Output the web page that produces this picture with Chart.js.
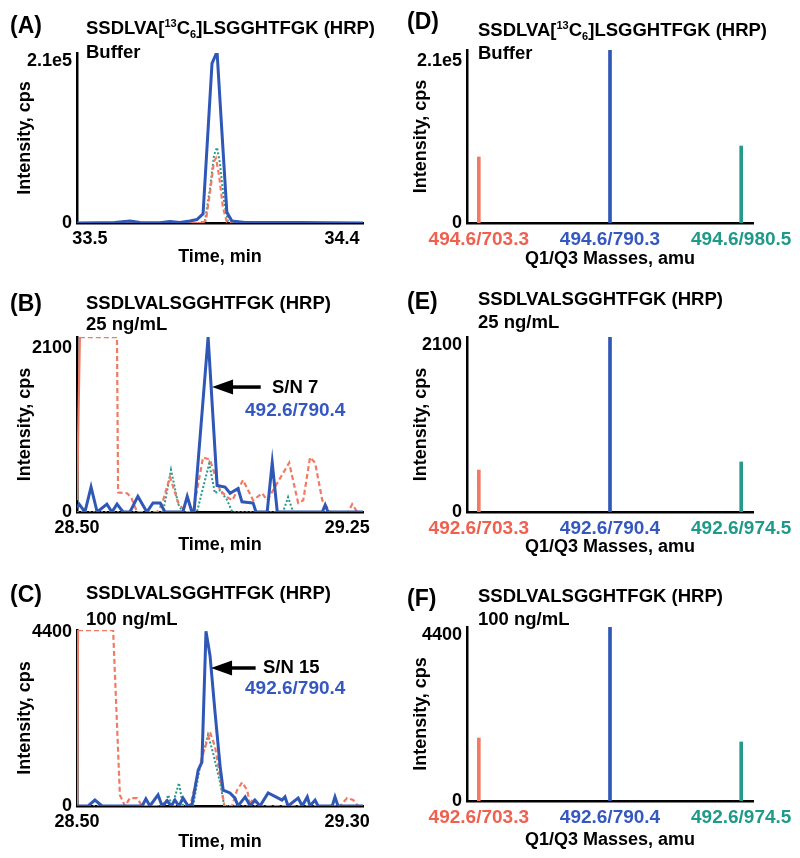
<!DOCTYPE html>
<html>
<head>
<meta charset="utf-8">
<script src="https://cdn.jsdelivr.net/npm/chart.js@4.4.0/dist/chart.umd.min.js"></script>
<style>
body { margin: 0; background: #fff; }
#fig { position: relative; width: 800px; height: 858px; font-family: "Liberation Sans", Arial, sans-serif; font-weight: bold; color: #000; overflow: hidden; }
#fig canvas { position: absolute; }
.t { position: absolute; font-size: 18.5px; line-height: 18px; white-space: nowrap; }
.lbl { position: absolute; font-size: 23px; line-height: 23px; white-space: nowrap; }
.sup { font-size: 11px; position: relative; top: -7px; }
.sub { font-size: 11px; position: relative; top: 4px; }
.blue { color: #3558c0; font-size: 19px; }
</style>
</head>
<body>
<div id="fig">
  <canvas id="chart-a" width="400" height="280" style="left:0;top:0"></canvas>
  <canvas id="chart-b" width="400" height="280" style="left:0;top:280px"></canvas>
  <canvas id="chart-c" width="400" height="298" style="left:0;top:560px"></canvas>
  <canvas id="chart-d" width="400" height="280" style="left:400px;top:0"></canvas>
  <canvas id="chart-e" width="400" height="280" style="left:400px;top:280px"></canvas>
  <canvas id="chart-f" width="400" height="298" style="left:400px;top:560px"></canvas>

  <div class="lbl" style="left:10px;top:14px">(A)</div>
  <div class="t" style="left:86px;top:19px">SSDLVA[<span class="sup">13</span>C<span class="sub">6</span>]LSGGHTFGK (HRP)</div>
  <div class="t" style="left:86px;top:43px">Buffer</div>

  <div class="lbl" style="left:10px;top:292px">(B)</div>
  <div class="t" style="left:86px;top:294px">SSDLVALSGGHTFGK (HRP)</div>
  <div class="t" style="left:86px;top:315px">25 ng/mL</div>
  <div class="t" style="left:272px;top:378px">S/N 7</div>
  <div class="t blue" style="left:245px;top:401px">492.6/790.4</div>

  <div class="lbl" style="left:10px;top:583px">(C)</div>
  <div class="t" style="left:86px;top:584px">SSDLVALSGGHTFGK (HRP)</div>
  <div class="t" style="left:86px;top:610px">100 ng/mL</div>
  <div class="t" style="left:263px;top:658px">S/N 15</div>
  <div class="t blue" style="left:245px;top:679px">492.6/790.4</div>

  <div class="lbl" style="left:407px;top:10px">(D)</div>
  <div class="t" style="left:478px;top:21px">SSDLVA[<span class="sup">13</span>C<span class="sub">6</span>]LSGGHTFGK (HRP)</div>
  <div class="t" style="left:478px;top:44px">Buffer</div>

  <div class="lbl" style="left:407px;top:290px">(E)</div>
  <div class="t" style="left:478px;top:290px">SSDLVALSGGHTFGK (HRP)</div>
  <div class="t" style="left:478px;top:313px">25 ng/mL</div>

  <div class="lbl" style="left:407px;top:587px">(F)</div>
  <div class="t" style="left:478px;top:587px">SSDLVALSGGHTFGK (HRP)</div>
  <div class="t" style="left:478px;top:610px">100 ng/mL</div>
</div>

<script>
// ---- data: chromatograms (time, min / intensity, cps) ----
// (A) SSDLVA[13C6]LSGGHTFGK, buffer
var timeA_blue = [33.454, 33.536, 33.589, 33.643, 33.679, 33.75, 33.786, 33.821, 33.857, 33.882, 33.904, 33.936, 33.954, 33.971, 33.989, 34.007, 34.054, 34.143, 34.25, 34.357, 34.475];
var intA_blue = [0, 300, 800, 2500, 600, 300, 1800, 800, 2500, 4500, 12000, 207000, 222000, 120000, 14000, 2500, 800, 500, 800, 400, 0];
var timeA_teal = [33.454, 33.893, 33.911, 33.929, 33.943, 33.954, 33.964, 33.979, 33.993, 34.007, 34.475];
var intA_teal = [0, 0, 3000, 45000, 88000, 98000, 78000, 28000, 2000, 0, 0];
var timeA_red = [33.454, 33.9, 33.914, 33.929, 33.943, 33.95, 33.961, 33.975, 33.989, 34.004, 34.475];
var intA_red = [0, 0, 3000, 40000, 80000, 84000, 62000, 20000, 1500, 0, 0];

// (B) SSDLVALSGGHTFGK, 25 ng/mL
var timeB_blue = [28.5, 28.506, 28.522, 28.539, 28.556, 28.583, 28.597, 28.611, 28.628, 28.647, 28.669, 28.694, 28.711, 28.731, 28.744, 28.794, 28.806, 28.819, 28.825, 28.864, 28.889, 28.911, 28.925, 28.947, 28.958, 28.989, 28.997, 29.028, 29.042, 29.056, 29.181, 29.189, 29.197, 29.294];
var intB_blue = [50, 100, 0, 320, 0, 100, 0, 100, 0, 0, 200, 0, 115, 115, 0, 0, 200, 0, 0, 2240, 340, 320, 240, 300, 130, 115, 0, 0, 630, 0, 0, 90, 0, 0];
var timeB_teal = [28.5, 28.739, 28.761, 28.781, 28.794, 28.833, 28.867, 28.883, 28.897, 28.917, 28.931, 29.072, 29.086, 29.1, 29.294];
var intB_teal = [0, 0, 540, 100, 0, 0, 620, 240, 280, 150, 0, 0, 190, 0, 0];
var timeB_red = [28.5, 28.508, 28.611, 28.614, 28.639, 28.65, 28.667, 28.722, 28.736, 28.758, 28.781, 28.8, 28.822, 28.85, 28.869, 28.897, 28.917, 28.931, 28.961, 28.989, 29.014, 29.028, 29.089, 29.114, 29.128, 29.147, 29.161, 29.181, 29.203, 29.253, 29.264, 29.278, 29.294];
var intB_red = [150, 2240, 2240, 250, 240, 190, 0, 0, 100, 450, 120, 0, 0, 700, 670, 280, 190, 150, 410, 150, 240, 150, 630, 115, 150, 700, 630, 150, 0, 0, 100, 0, 0];

// (C) SSDLVALSGGHTFGK, 100 ng/mL
var timeC_blue = [28.5, 28.533, 28.553, 28.574, 28.693, 28.704, 28.716, 28.74, 28.752, 28.767, 28.779, 28.79, 28.802, 28.814, 28.829, 28.841, 28.859, 28.87, 28.882, 28.894, 28.909, 28.924, 28.933, 28.953, 28.968, 28.977, 28.998, 29.013, 29.027, 29.042, 29.066, 29.096, 29.107, 29.116, 29.125, 29.155, 29.167, 29.182, 29.19, 29.205, 29.214, 29.256, 29.264, 29.273, 29.347];
var intC_blue = [0, 0, 150, 0, 0, 180, 0, 280, 0, 130, 0, 150, 0, 200, 0, 50, 910, 1110, 4420, 3800, 2350, 990, 400, 330, 200, 0, 230, 0, 150, 0, 330, 200, 150, 230, 0, 200, 0, 230, 0, 150, 0, 0, 230, 0, 0];
var timeC_teal = [28.5, 28.759, 28.77, 28.782, 28.802, 28.814, 28.844, 28.864, 28.888, 28.903, 28.924, 28.936, 29.347];
var intC_teal = [0, 0, 280, 0, 580, 0, 0, 990, 1800, 1340, 580, 0, 0];
var timeC_red = [28.5, 28.503, 28.607, 28.627, 28.642, 28.657, 28.678, 28.693, 28.746, 28.767, 28.781, 28.835, 28.856, 28.87, 28.894, 28.909, 28.924, 28.936, 28.959, 28.974, 28.989, 29.004, 29.013, 29.021, 29.036, 29.279, 29.3, 29.318, 29.333, 29.347];
var intC_red = [0, 4450, 4450, 280, 0, 200, 200, 0, 0, 150, 0, 0, 730, 1240, 1870, 1490, 730, 0, 0, 400, 600, 400, 0, 200, 0, 0, 200, 150, 0, 0];

// axis ranges and tick labels
var timeRangeA = [33.454, 34.475], timeTicksA = [33.5, 34.4], timeTextA = ["33.5", "34.4"];
var timeRangeB = [28.5, 29.294], timeTicksB = [28.5, 29.25], timeTextB = ["28.50", "29.25"];
var timeRangeC = [28.5, 29.347], timeTicksC = [28.5, 29.3], timeTextC = ["28.50", "29.30"];
var intMaxA = 220400, intTicksA = [0, 210000], intTextA = ["0", "2.1e5"];
var intMaxB = 2241, intTicksB = [0, 2100], intTextB = ["0", "2100"];
var intMaxC = 4451, intTicksC = [0, 4400], intTextC = ["0", "4400"];

// S/N arrows: [tip time, tail time, intensity]
var arrowB = [28.875, 29.01, 1600];
var arrowC = [28.897, 29.029, 3490];

// ---- data: MRM transitions (Q1/Q3) ----
var massD = ["494.6/703.3", "494.6/790.3", "494.6/980.5"];
var massEF = ["492.6/703.3", "492.6/790.4", "492.6/974.5"];
var massPos = [0, 1, 2];
var barsD = [85600, 227000, 99800];
var barsE = [528, 2200, 629];
var barsF = [1670, 4610, 1564];
var intMaxD = 224300, intMaxE = 2201, intMaxF = 4612;

// ---- styles ----
var BLUE = "#2f57b6", RED = "#f27a63", TEAL = "#25998a";
var TICK_RED = "#f0604f", TICK_BLUE = "#3558c0", TICK_TEAL = "#1e9a88";
var FAMILY = "'Liberation Sans', Arial, sans-serif";
Chart.defaults.color = "#000";
Chart.defaults.font.family = FAMILY;

function pts(t, v) {
    return t.map(function (x, i) { return { x: x, y: v[i] }; });
}

function fixedTicks(vals) {
    return function (scale) {
        scale.ticks = vals.map(function (v) { return { value: v }; });
    };
}

var arrowPlugin = {
    id: "snArrow",
    afterDatasetsDraw: function (chart, args, opts) {
        if (!opts.at) return;
        var c = chart.ctx;
        var tip = chart.scales.x.getPixelForValue(opts.at[0]);
        var tail = chart.scales.x.getPixelForValue(opts.at[1]);
        var y = chart.scales.y.getPixelForValue(opts.at[2]);
        c.save();
        c.fillStyle = c.strokeStyle = "#000";
        c.lineWidth = 3.5;
        c.beginPath();
        c.moveTo(tip + 18, y);
        c.lineTo(tail, y);
        c.stroke();
        c.beginPath();
        c.moveTo(tip, y);
        c.lineTo(tip + 21, y - 7.5);
        c.lineTo(tip + 21, y + 7.5);
        c.closePath();
        c.fill();
        c.restore();
    }
};

// area = [left, top, right, bottom] of the plot inside the canvas
function baseOptions(canvas, area, yTitlePad, xTitlePad, yMax, yTicks, yText) {
    return {
        responsive: false,
        animation: false,
        layout: {
            padding: {
                left: 0,
                top: area[1],
                right: canvas.width - area[2],
                bottom: canvas.height - area[3] - 48
            }
        },
        plugins: { legend: { display: false }, tooltip: { enabled: false } },
        scales: {
            y: {
                type: "linear",
                min: 0,
                max: yMax,
                bounds: "data",
                afterBuildTicks: fixedTicks(yTicks),
                afterFit: function (s) { s.width = area[0]; },
                grid: { display: false, drawTicks: false },
                border: { color: "#000", width: 2.5 },
                ticks: {
                    padding: 5,
                    font: { size: 18, weight: "bold" },
                    callback: function (v, i) { return yText[i]; }
                },
                title: {
                    display: true,
                    text: "Intensity, cps",
                    font: { size: 18, weight: "bold", lineHeight: 1 },
                    padding: { top: yTitlePad, bottom: 0 }
                }
            },
            x: {
                type: "linear",
                bounds: "data",
                afterFit: function (s) { s.height = 48; },
                grid: { display: false, drawTicks: false },
                border: { color: "#000", width: 2.5 },
                ticks: { autoSkip: false, maxRotation: 0, padding: 5, font: { size: 18, weight: "bold" } },
                title: {
                    display: true,
                    font: { size: 18, weight: "bold", lineHeight: 1 },
                    padding: { top: 0, bottom: xTitlePad }
                }
            }
        }
    };
}

function chromatogram(id, area, xTitlePad, traces, xRange, xTicks, xText, yMax, yTicks, yText, arrow) {
    var canvas = document.getElementById(id);
    var opts = baseOptions(canvas, area, 16, xTitlePad, yMax, yTicks, yText);
    opts.scales.x.min = xRange[0];
    opts.scales.x.max = xRange[1];
    opts.scales.x.afterBuildTicks = fixedTicks(xTicks);
    opts.scales.x.ticks.callback = function (v, i) { return xText[i]; };
    opts.scales.x.title.text = "Time, min";
    opts.elements = { point: { radius: 0 }, line: { tension: 0 } };
    opts.plugins.snArrow = { at: arrow };
    return new Chart(canvas.getContext("2d"), {
        type: "line",
        data: {
            datasets: [
                { data: pts(traces[0], traces[1]), borderColor: BLUE, borderWidth: 3 },
                {
                    data: pts(traces[4], traces[5]), borderColor: RED, borderWidth: 2.2, borderDash: [5, 3],
                    segment: { borderDash: function (c) { return c.p0DataIndex === 0 ? [] : undefined; } }
                },
                { data: pts(traces[2], traces[3]), borderColor: TEAL, borderWidth: 2, borderDash: [2, 2] }
            ]
        },
        options: opts,
        plugins: [arrowPlugin]
    });
}

function transitions(id, area, xTitlePad, labels, values, yMax, yText) {
    var canvas = document.getElementById(id);
    var opts = baseOptions(canvas, area, 12, xTitlePad, yMax, [0, Number(yText[1])], yText);
    opts.scales.x.min = -0.09;
    opts.scales.x.max = 2.09;
    opts.scales.x.offset = false;
    opts.scales.x.afterBuildTicks = fixedTicks(massPos);
    opts.scales.x.ticks.font = { size: 19, weight: "bold" };
    opts.scales.x.ticks.color = function (c) { return [TICK_RED, TICK_BLUE, TICK_TEAL][c.index]; };
    opts.scales.x.ticks.callback = function (v, i) { return labels[i]; };
    opts.scales.x.title.text = "Q1/Q3 Masses, amu";
    return new Chart(canvas.getContext("2d"), {
        type: "bar",
        data: {
            datasets: [{
                data: pts(massPos, values),
                backgroundColor: [RED, BLUE, TEAL],
                barThickness: 3,
                borderWidth: 0
            }]
        },
        options: opts
    });
}

chromatogram("chart-a", [77, 53, 363, 223], 5,
    [timeA_blue, intA_blue, timeA_teal, intA_teal, timeA_red, intA_red],
    timeRangeA, timeTicksA, timeTextA, intMaxA, intTicksA, intTextA, null);
chromatogram("chart-b", [77, 57, 363, 232], 6,
    [timeB_blue, intB_blue, timeB_teal, intB_teal, timeB_red, intB_red],
    timeRangeB, timeTicksB, timeTextB, intMaxB, intTicksB, intTextB, arrowB);
chromatogram("chart-c", [77, 70, 363, 246], 3,
    [timeC_blue, intC_blue, timeC_teal, intC_teal, timeC_red, intC_red],
    timeRangeC, timeTicksC, timeTextC, intMaxC, intTicksC, intTextC, arrowC);

transitions("chart-d", [67, 50, 353, 223], 3, massD, barsD, intMaxD, ["0", "2.1e5"]);
transitions("chart-e", [67, 57, 353, 232], 4, massEF, barsE, intMaxE, ["0", "2100"]);
transitions("chart-f", [67, 67, 353, 241], 0, massEF, barsF, intMaxF, ["0", "4400"]);
</script>
</body>
</html>
